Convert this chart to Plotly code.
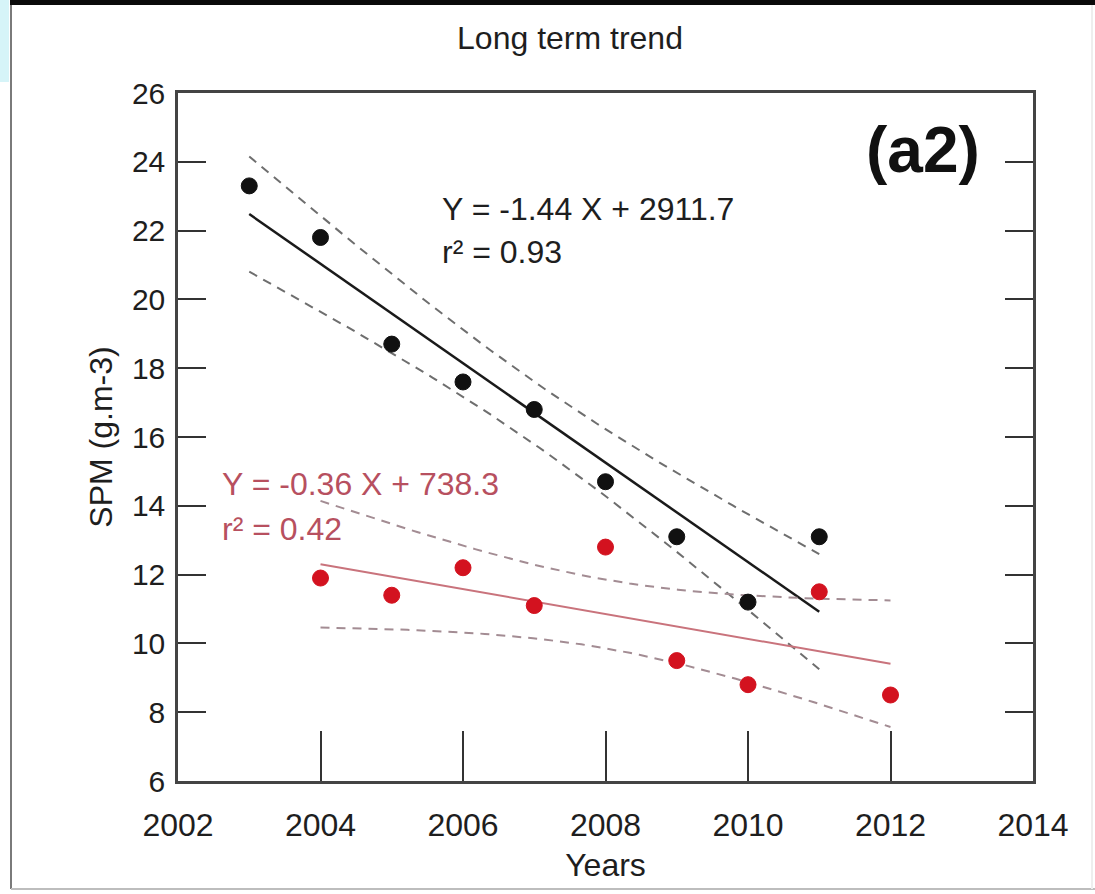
import numpy as np
import plotly.graph_objects as go

# ---- data ----
years_black = [2003, 2004, 2005, 2006, 2007, 2008, 2009, 2010, 2011]
spm_black = [23.3, 21.8, 18.7, 17.6, 16.8, 14.7, 13.1, 11.2, 13.1]
years_red = [2004, 2005, 2006, 2007, 2008, 2009, 2010, 2011, 2012]
spm_red = [11.9, 11.4, 12.2, 11.1, 12.8, 9.5, 8.8, 11.5, 8.5]

eq_black = ["Y = -1.44 X + 2911.7", "r² = 0.93"]
eq_red = ["Y = -0.36 X + 738.3", "r² = 0.42"]
x_ticks = [2002, 2004, 2006, 2008, 2010, 2012, 2014]
y_ticks = [6, 8, 10, 12, 14, 16, 18, 20, 22, 24, 26]

T95_DF7 = 2.3646  # Student t, 95 %, 7 degrees of freedom

FONT = "Liberation Sans, Arial, Helvetica, sans-serif"


def fit_with_band(x, y, n=60):
    x = np.asarray(x, float)
    y = np.asarray(y, float)
    slope, icpt = np.polyfit(x, y, 1)
    res = y - (slope * x + icpt)
    s = np.sqrt(np.sum(res ** 2) / (len(x) - 2))
    xm = x.mean()
    sxx = np.sum((x - xm) ** 2)
    xs = np.linspace(x.min(), x.max(), n)
    yfit = slope * xs + icpt
    half = T95_DF7 * s * np.sqrt(1 / len(x) + (xs - xm) ** 2 / sxx)
    return xs, yfit, yfit - half, yfit + half


fig = go.Figure()

specs = [
    (years_black, spm_black, "#1a1a1a", 2.5, "#6e6e6e", "#111111", "black series"),
    (years_red, spm_red, "#c9737c", 2.0, "#a38c93", "#d3121f", "red series"),
]

for xv, yv, lcol, lw, dcol, mcol, name in specs:
    xs, yfit, lo, hi = fit_with_band(xv, yv)
    for band in (lo, hi):
        fig.add_trace(go.Scatter(x=xs, y=band, mode="lines",
                                 line=dict(color=dcol, width=2, dash="9px,7px"),
                                 showlegend=False, hoverinfo="skip"))
    fig.add_trace(go.Scatter(x=xs, y=yfit, mode="lines",
                             line=dict(color=lcol, width=lw),
                             showlegend=False, hoverinfo="skip"))

for xv, yv, lcol, lw, dcol, mcol, name in specs:
    fig.add_trace(go.Scatter(x=xv, y=yv, mode="markers", name=name,
                             marker=dict(color=mcol, size=16,
                                         line=dict(color=mcol, width=1)),
                             showlegend=False))

# plot-area pixel geometry (for paper placement of text/frame)
L, R, T, B = 178, 1033, 93, 781
W, H = 1095, 894


def px(xp):
    return (xp - L) / (R - L)


def py(yp):
    return (B - yp) / (B - T)


annotations = [
    dict(text=eq_black[0], x=px(440), y=py(209), xanchor="left", yanchor="middle",
         font=dict(size=32, color="#1e1e1e", family=FONT)),
    dict(text=eq_black[1], x=px(440), y=py(252), xanchor="left", yanchor="middle",
         font=dict(size=32, color="#1e1e1e", family=FONT)),
    dict(text=eq_red[0], x=px(220), y=py(484), xanchor="left", yanchor="middle",
         font=dict(size=32, color="#b7505f", family=FONT)),
    dict(text=eq_red[1], x=px(220), y=py(529), xanchor="left", yanchor="middle",
         font=dict(size=32, color="#b7505f", family=FONT)),
    dict(text="<b>(a2)</b>", x=px(923), y=py(150), xanchor="center", yanchor="middle",
         font=dict(size=64, color="#111111", family=FONT)),
]
for a in annotations:
    a.update(xref="paper", yref="paper", showarrow=False)

shapes = [
    # black top bar
    dict(type="rect", x0=px(10), x1=px(W), y0=py(5), y1=py(0),
         fillcolor="#0a0a0a", line=dict(width=0)),
    # light blue tab
    dict(type="rect", x0=px(0), x1=px(9), y0=py(82), y1=py(0),
         fillcolor="#d6f4f8", line=dict(width=0)),
    # frame lines
    dict(type="line", x0=px(11), x1=px(11), y0=py(889), y1=py(5),
         line=dict(color="#7a7a7a", width=2)),
    dict(type="line", x0=px(11), x1=px(W), y0=py(889), y1=py(889),
         line=dict(color="#bdbdbd", width=2)),
    dict(type="line", x0=px(1092), x1=px(1092), y0=py(889), y1=py(5),
         line=dict(color="#eeeeee", width=2)),
]
for s in shapes:
    s.update(xref="paper", yref="paper", layer="above")

fig.update_layout(
    width=W, height=H,
    margin=dict(l=L, r=W - R, t=T, b=H - B, pad=0),
    paper_bgcolor="white", plot_bgcolor="white",
    font=dict(family=FONT, color="#1e1e1e"),
    title=dict(text="Long term trend", x=px(570), xref="paper", xanchor="center",
               y=1 - 38 / H, yref="container", yanchor="middle",
               font=dict(size=32, color="#1e1e1e", family=FONT)),
    annotations=annotations,
    shapes=shapes,
    showlegend=False,
)

fig.update_xaxes(
    range=[2002, 2014], tickvals=x_ticks, ticktext=[str(v) for v in x_ticks],
    showgrid=False, zeroline=False,
    showline=True, linecolor="#444444", linewidth=2.5, mirror=True,
    ticks="inside", ticklen=50, tickwidth=2, tickcolor="#333333",
    tickfont=dict(size=32, family=FONT, color="#1e1e1e"),
    ticklabelstandoff=14,
    title=dict(text="Years", font=dict(size=32, family=FONT, color="#1e1e1e"),
               standoff=12),
)
fig.update_yaxes(
    range=[6, 26], tickvals=y_ticks, ticktext=[str(v) for v in y_ticks],
    showgrid=False, zeroline=False,
    showline=True, linecolor="#444444", linewidth=2.5, mirror="ticks",
    ticks="inside", ticklen=28, tickwidth=2, tickcolor="#333333",
    tickfont=dict(size=30, family=FONT, color="#1e1e1e"),
    ticklabelstandoff=4,
    title=dict(text="SPM (g.m-3)", font=dict(size=32, family=FONT, color="#1e1e1e"),
               standoff=10),
)

fig.write_html("out.html",
               config={"displayModeBar": False},
               post_script="document.body.style.margin='0px';"
                           "document.body.style.overflow='hidden';")
